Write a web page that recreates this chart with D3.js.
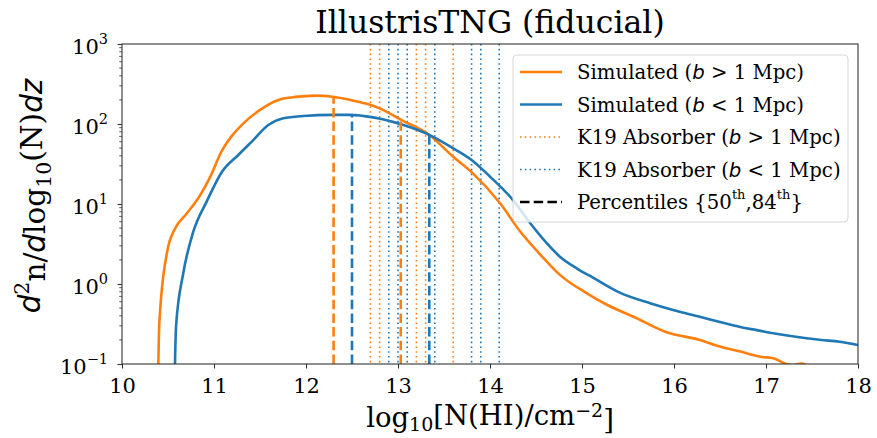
<!DOCTYPE html>
<html>
<head>
<meta charset="utf-8">
<script src="https://cdn.jsdelivr.net/npm/d3@7/dist/d3.min.js"></script>
<style>
  body { margin: 0; background: #fff; }
  text { font-family: "DejaVu Serif", serif; fill: #000; }
</style>
</head>
<body>
<svg id="chart" width="877" height="438"></svg>
<script>
// Column-density distribution, b > 1 Mpc (outer) and b < 1 Mpc (inner)
const logNOuter = [10.395, 10.405, 10.49, 10.58, 10.69, 10.79, 10.85, 10.96, 11.08, 11.19, 11.32, 11.5, 11.7, 11.86, 12.0, 12.12, 12.29, 12.48, 12.65, 12.8, 13.04, 13.34, 13.6, 13.8, 14.11, 14.33, 14.44, 14.6, 14.76, 15.05, 15.27, 15.56, 15.92, 16.28, 16.5, 16.72, 16.94, 17.08, 17.22, 17.3, 17.38, 17.44];
const dndzOuter = [0.1, 0.31, 2.5, 5.0, 7.3, 10.2, 12.9, 22, 45, 70, 102, 150, 200, 216, 223, 226, 219, 200, 180, 157, 112, 73, 39, 25, 10.2, 4.5, 3.2, 2.0, 1.3, 0.77, 0.55, 0.39, 0.25, 0.2, 0.165, 0.143, 0.123, 0.118, 0.1, 0.097, 0.101, 0.097];

const logNInner = [10.576, 10.587, 10.666, 10.775, 10.92, 11.084, 11.264, 11.427, 11.59, 11.753, 11.97, 12.29, 12.48, 12.73, 13.06, 13.34, 13.57, 13.8, 14.0, 14.25, 14.44, 14.6, 14.76, 14.95, 15.12, 15.41, 15.74, 16.0, 16.28, 16.5, 16.72, 16.9, 17.08, 17.25, 17.44, 17.6, 17.8, 18.0];
const dndzInner = [0.1, 0.29, 1.36, 4.5, 10.7, 25, 41, 63, 97, 118, 126, 130, 130, 121, 97, 73, 52, 35.5, 22, 11.2, 5.7, 3.4, 2.19, 1.55, 1.2, 0.78, 0.575, 0.47, 0.39, 0.335, 0.29, 0.265, 0.242, 0.225, 0.21, 0.2, 0.19, 0.173];

// K19 absorber column densities
const k19Outer = [12.7, 12.8, 13.2, 13.3, 13.6];
const k19Inner = [12.9, 13.0, 13.1, 13.4, 13.8, 13.9, 14.1];

// 50th and 84th percentiles of each simulated distribution
const pctOuter = [12.3, 13.03];
const pctInner = [12.5, 13.34];

const xTicks = [10, 11, 12, 13, 14, 15, 16, 17, 18];
const yTicks = [0.1, 1, 10, 100, 1000];

const ORANGE = "#ff7f0e", BLUE = "#1f77b4";

const svg = d3.select("#chart");
const M = { left: 122, right: 19, top: 44, bottom: 74 };
const W = 877, H = 438;

const x = d3.scaleLinear().domain([10, 18]).range([M.left, W - M.right]);
const y = d3.scaleLog().domain([0.1, 1000]).range([H - M.bottom, M.top]);

svg.append("defs").append("clipPath").attr("id", "plotClip")
  .append("rect").attr("x", M.left).attr("y", M.top)
  .attr("width", W - M.left - M.right).attr("height", H - M.top - M.bottom);

const plot = svg.append("g").attr("clip-path", "url(#plotClip)");

// K19 absorbers: full-height dotted lines
function drawDotted(vals, color) {
  plot.selectAll(null).data(vals).enter().append("line")
    .attr("x1", d => x(d)).attr("x2", d => x(d))
    .attr("y1", y(1000)).attr("y2", y(0.1))
    .attr("stroke", color).attr("stroke-width", 1.6)
    .attr("stroke-dasharray", "1.6,3.2");
}
drawDotted(k19Outer, ORANGE);
drawDotted(k19Inner, BLUE);

// Simulated distributions
const line = d3.line().x(d => x(d[0])).y(d => y(d[1])).curve(d3.curveMonotoneX);
const outerPts = logNOuter.map((v, i) => [v, dndzOuter[i]]);
const innerPts = logNInner.map((v, i) => [v, dndzInner[i]]);

plot.append("path").datum(outerPts).attr("d", line)
  .attr("fill", "none").attr("stroke", ORANGE).attr("stroke-width", 2.6).attr("stroke-linejoin", "round");
plot.append("path").datum(innerPts).attr("d", line)
  .attr("fill", "none").attr("stroke", BLUE).attr("stroke-width", 2.6).attr("stroke-linejoin", "round");

// Percentile markers rise from the axis to the curve
function valueAt(xs, ys, v) {
  const i = d3.bisectLeft(xs, v);
  if (i <= 0) return ys[0];
  if (i >= xs.length) return ys[ys.length - 1];
  const t = (v - xs[i - 1]) / (xs[i] - xs[i - 1]);
  return Math.pow(10, Math.log10(ys[i - 1]) * (1 - t) + Math.log10(ys[i]) * t);
}
function drawPct(vals, xs, ys, color) {
  plot.selectAll(null).data(vals).enter().append("line")
    .attr("x1", d => x(d)).attr("x2", d => x(d))
    .attr("y1", y(0.1)).attr("y2", d => y(valueAt(xs, ys, d)))
    .attr("stroke", color).attr("stroke-width", 2.6)
    .attr("stroke-dasharray", "9.5,4.2");
}
drawPct(pctOuter, logNOuter, dndzOuter, ORANGE);
drawPct(pctInner, logNInner, dndzInner, BLUE);

// Frame
svg.append("rect").attr("x", M.left).attr("y", M.top)
  .attr("width", W - M.left - M.right).attr("height", H - M.top - M.bottom)
  .attr("fill", "none").attr("stroke", "#333").attr("stroke-width", 1.1);

// X axis
const xAxis = svg.append("g").attr("transform", `translate(0,${H - M.bottom})`)
  .call(d3.axisBottom(x).tickValues(xTicks).tickSize(4.5).tickPadding(7).tickFormat(d3.format("d")));
xAxis.select(".domain").remove();
xAxis.selectAll(".tick line").attr("stroke", "#333").attr("stroke-width", 1.1);
xAxis.selectAll(".tick text").attr("font-size", 21).attr("font-family", "DejaVu Serif").attr("dy", "0.85em");

// Y axis: decades with superscript exponents, plus minor ticks
const minor = [];
for (let e = -1; e < 3; e++) for (let k = 2; k <= 9; k++) minor.push(k * Math.pow(10, e));
const yMinor = svg.append("g").attr("transform", `translate(${M.left},0)`);
yMinor.selectAll("line").data(minor).enter().append("line")
  .attr("x1", -2.8).attr("x2", 0).attr("y1", d => y(d)).attr("y2", d => y(d))
  .attr("stroke", "#333").attr("stroke-width", 0.8);

const yAxis = svg.append("g").attr("transform", `translate(${M.left},0)`)
  .call(d3.axisLeft(y).tickValues(yTicks).tickSize(4.5).tickPadding(9.5).tickFormat(() => ""));
yAxis.select(".domain").remove();
yAxis.selectAll(".tick line").attr("stroke", "#333").attr("stroke-width", 1.1);
yAxis.selectAll(".tick text").each(function (d) {
  const t = d3.select(this).attr("font-size", 21).attr("font-family", "DejaVu Serif").attr("dy", "0.47em").text("");
  const e = Math.round(Math.log10(d));
  t.append("tspan").text("10");
  t.append("tspan").attr("font-size", 14.5).attr("dy", "-0.75em").text(e < 0 ? "\u2212" + (-e) : String(e));
});

// Title
svg.append("text").attr("x", (M.left + W - M.right) / 2).attr("y", 33)
  .attr("text-anchor", "middle").attr("font-size", 31.5).text("IllustrisTNG (fiducial)");

// X label
const xl = svg.append("text").attr("x", (M.left + W - M.right) / 2).attr("y", 427)
  .attr("text-anchor", "middle").attr("font-size", 27.5);
xl.append("tspan").text("log");
xl.append("tspan").attr("font-size", 19).attr("dy", "0.22em").text("10");
xl.append("tspan").attr("dy", "-0.22em").text("[N(HI)/cm");
xl.append("tspan").attr("font-size", 19).attr("dy", "-0.42em").text("\u22122");
xl.append("tspan").attr("dy", "0.42em").text("]");

// Y label
const yl = svg.append("text")
  .attr("transform", `translate(40,196) rotate(-90)`)
  .attr("text-anchor", "middle").attr("font-size", 29.5);
yl.append("tspan").attr("font-style", "italic").attr("font-family", "DejaVu Sans").text("d");
yl.append("tspan").attr("font-size", 20.5).attr("dy", "-0.55em").text("2");
yl.append("tspan").attr("dy", "0.55em").text("n/");
yl.append("tspan").attr("font-style", "italic").attr("font-family", "DejaVu Sans").text("d");
yl.append("tspan").text("log");
yl.append("tspan").attr("font-size", 20.5).attr("dy", "0.3em").text("10");
yl.append("tspan").attr("dy", "-0.3em").text("(N)");
yl.append("tspan").attr("font-style", "italic").attr("font-family", "DejaVu Sans").text("dz");

// Legend
const legend = svg.append("g");
legend.append("rect").attr("x", 513).attr("y", 55).attr("width", 335).attr("height", 167)
  .attr("rx", 4).attr("fill", "#fff").attr("fill-opacity", 0.8)
  .attr("stroke", "#d6d6d6").attr("stroke-width", 1);

const entries = [
  { color: ORANGE, dash: null, w: 2.6, parts: [["Simulated (", 0], ["b", 1], [" > 1 Mpc)", 0]] },
  { color: BLUE, dash: null, w: 2.6, parts: [["Simulated (", 0], ["b", 1], [" < 1 Mpc)", 0]] },
  { color: ORANGE, dash: "1.6,3.2", w: 1.6, parts: [["K19 Absorber (", 0], ["b", 1], [" > 1 Mpc)", 0]] },
  { color: BLUE, dash: "1.6,3.2", w: 1.6, parts: [["K19 Absorber (", 0], ["b", 1], [" < 1 Mpc)", 0]] },
  { color: "#000", dash: "9.5,4.2", w: 2.6, parts: [["Percentiles {50", 0], ["th", 2], [",84", 0], ["th", 2], ["}", 0]] }
];
entries.forEach((e, i) => {
  const cy = 72 + i * 32.5;
  legend.append("line").attr("x1", 520).attr("x2", 562).attr("y1", cy).attr("y2", cy)
    .attr("stroke", e.color).attr("stroke-width", e.w)
    .attr("stroke-dasharray", e.dash);
  const t = legend.append("text").attr("x", 577).attr("y", cy + 7).attr("font-size", 19.7);
  let raised = false;
  e.parts.forEach(([s, kind]) => {
    const sp = t.append("tspan").text(s);
    if (kind === 1) sp.attr("font-style", "italic").attr("font-family", "DejaVu Sans");
    if (kind === 2) { sp.attr("font-size", 13).attr("dy", raised ? 0 : "-0.75em"); raised = true; }
    else if (raised) { sp.attr("dy", "0.5em"); raised = false; }
  });
});
</script>
</body>
</html>
